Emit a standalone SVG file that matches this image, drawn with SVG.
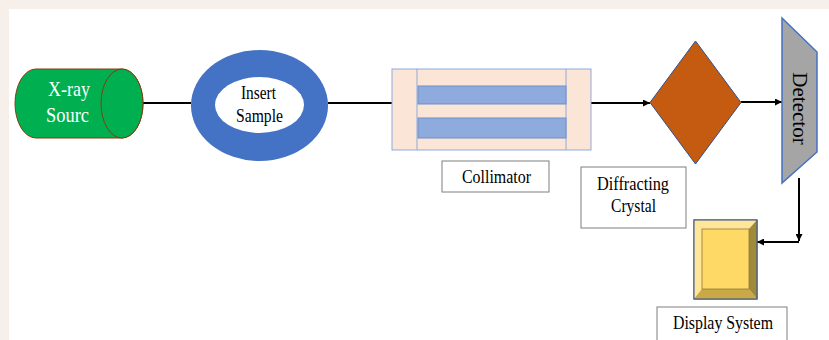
<svg xmlns="http://www.w3.org/2000/svg" width="829" height="340" viewBox="0 0 829 340">
<defs>
<marker id="arr" viewBox="0 0 10 10" refX="10" refY="5" markerWidth="7" markerHeight="7" markerUnits="userSpaceOnUse" orient="auto">
<path d="M0,0 L10,5 L0,10 z" fill="#000"/>
</marker>
<style>
.t{font-family:"Liberation Serif","Times New Roman",serif;fill:#000}
.w{fill:#fff}
.lbl{fill:#fff;stroke:#7f7f7f;stroke-width:1}
.c{fill:none;stroke:#000;stroke-width:2}
</style>
</defs>
<rect x="0" y="0" width="829" height="340" fill="#f6efea"/>
<rect x="9" y="9" width="820" height="331" fill="#fff"/>

<g id="connectors">
<line class="c" x1="143" y1="103" x2="191" y2="103"/>
<line class="c" x1="328" y1="103" x2="392" y2="103"/>
<line class="c" x1="591" y1="103" x2="650" y2="103" marker-end="url(#arr)"/>
<line class="c" x1="741" y1="102" x2="782" y2="102" marker-end="url(#arr)"/>
<line class="c" x1="799" y1="178" x2="799" y2="241" marker-end="url(#arr)"/>
<line class="c" x1="799" y1="242" x2="757" y2="242" marker-end="url(#arr)"/>
</g>

<g id="xray-source">
<path d="M36,69 L122,69 A21,34.5 0 0 1 122,138 L36,138 A21,34.5 0 0 1 36,69 z" fill="#00b050" stroke="#843c0c" stroke-width="1"/>
<ellipse cx="122" cy="103.5" rx="21" ry="34.5" fill="#00b050" stroke="#843c0c" stroke-width="1"/>
<text class="t w" x="69" y="96" font-size="22" text-anchor="middle" textLength="42" lengthAdjust="spacingAndGlyphs">X-ray</text>
<text class="t w" x="67.5" y="122" font-size="22" text-anchor="middle" textLength="43" lengthAdjust="spacingAndGlyphs">Sourc</text>
</g>

<g id="insert-sample">
<ellipse cx="259.5" cy="105.5" rx="68.5" ry="55.5" fill="#4472c4"/>
<ellipse cx="259.5" cy="105" rx="44.5" ry="28" fill="#fff"/>
<text class="t" x="258.5" y="99" font-size="18" text-anchor="middle" textLength="35" lengthAdjust="spacingAndGlyphs">Insert</text>
<text class="t" x="259.5" y="122" font-size="18" text-anchor="middle" textLength="47" lengthAdjust="spacingAndGlyphs">Sample</text>
</g>

<g id="collimator">
<rect x="392" y="69" width="199" height="81" fill="#fbe5d6" stroke="#8faadc" stroke-width="1"/>
<line x1="417" y1="69" x2="417" y2="150" stroke="#8faadc" stroke-width="1"/>
<line x1="566" y1="69" x2="566" y2="150" stroke="#8faadc" stroke-width="1"/>
<rect x="418" y="86" width="148" height="18" fill="#8faadc" stroke="#6f8fc9" stroke-width="1"/>
<rect x="418" y="118" width="148" height="20" fill="#8faadc" stroke="#6f8fc9" stroke-width="1"/>
</g>

<g id="collimator-label">
<rect class="lbl" x="442" y="161" width="107" height="31"/>
<text class="t" x="496.5" y="183" font-size="19" text-anchor="middle" textLength="69" lengthAdjust="spacingAndGlyphs">Collimator</text>
</g>

<g id="diffracting-crystal">
<polygon points="695.5,41 741,102.5 695.5,164 650,102.5" fill="#c55a11" stroke="#2f528f" stroke-width="1"/>
</g>

<g id="crystal-label">
<rect class="lbl" x="581" y="167" width="105" height="61"/>
<text class="t" x="633" y="190" font-size="19" text-anchor="middle" textLength="72" lengthAdjust="spacingAndGlyphs">Diffracting</text>
<text class="t" x="633.5" y="212" font-size="19" text-anchor="middle" textLength="45" lengthAdjust="spacingAndGlyphs">Crystal</text>
</g>

<g id="detector">
<polygon points="782,18 817,52 817,152 782,183" fill="#a5a5a5" stroke="#4472c4" stroke-width="1.5"/>
<text class="t" transform="translate(793,108.5) rotate(90)" x="0" y="0" font-size="21" text-anchor="middle">Detector</text>
</g>

<g id="display-system">
<rect x="694" y="220" width="63" height="79" fill="#ffd966" stroke="#2f528f" stroke-width="1"/>
<polygon points="694,220 757,220 749,229 702,229" fill="#ffe699"/>
<polygon points="694,220 702,229 702,289 694,299" fill="#ffe699"/>
<polygon points="757,220 757,299 749,289 749,229" fill="#9f8a3c"/>
<polygon points="694,299 702,289 749,289 757,299" fill="#c9a847"/>
<rect x="702" y="229" width="47" height="60" fill="#ffd966" stroke="#8f7a35" stroke-width="0.8"/>
<rect x="694" y="220" width="63" height="79" fill="none" stroke="#2f528f" stroke-width="1"/>
</g>

<g id="display-label">
<rect class="lbl" x="657" y="307" width="130" height="40"/>
<text class="t" x="723" y="329" font-size="18" text-anchor="middle" textLength="100" lengthAdjust="spacingAndGlyphs">Display System</text>
</g>
</svg>
